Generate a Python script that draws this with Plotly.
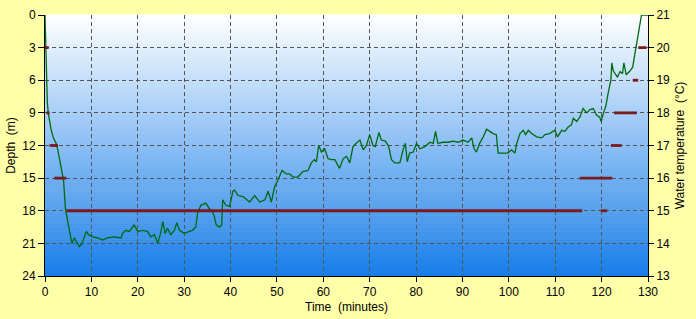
import plotly.graph_objects as go

# ---- Data ----
time_min = [0, 0.1, 0.2, 0.3, 0.5, 0.7, 1.0, 1.3, 1.8, 2.4, 2.8, 3.3, 3.7, 4.0, 4.2, 4.4, 4.9, 5.4, 5.8,
            6.3, 7.0, 7.4, 8.0, 8.5, 8.9, 9.4, 10.3, 11.3, 12.4, 13.5, 14.9, 16.4, 16.7, 17.4, 18.2, 19.2,
            20.0, 21.0, 22.1, 22.8, 23.6, 24.3, 24.9, 25.4, 25.9, 26.4, 27.1, 27.9, 28.4, 29.0, 30.0, 31.1,
            31.8, 32.5, 32.9, 33.6, 34.7, 35.4, 36.1, 36.5, 36.9, 37.6, 38.1, 38.3, 39.0, 39.8, 40.5, 40.9,
            41.6, 42.7, 44.1, 45.2, 46.3, 47.4, 48.1, 48.8, 49.5, 50.2, 51.1, 52.0, 52.7, 53.5, 54.5, 55.6,
            56.7, 57.4, 58.1, 58.5, 59.0, 59.6, 60.3, 61.0, 61.7, 62.5, 63.5, 64.3, 65.0, 65.7, 66.4, 67.1,
            67.9, 68.6, 69.3, 70.0, 70.7, 71.2, 72.0, 72.5, 73.4, 74.1, 74.7, 75.4, 76.5, 77.2, 77.7, 78.1,
            78.6, 79.4, 80.1, 80.8, 81.9, 83.0, 83.7, 84.2, 84.7, 85.8, 86.9, 88.0, 89.1, 90.1, 91.2, 92.0,
            92.5, 93.0, 93.7, 94.5, 95.2, 95.9, 96.6, 97.3, 97.7, 98.8, 99.8, 100.6, 101.3, 101.7, 102.4,
            103.1, 103.6, 104.2, 104.9, 106.0, 107.1, 107.8, 108.8, 109.9, 110.5, 111.4, 112.1, 112.8,
            113.5, 113.9, 114.6, 115.3, 116.0, 116.8, 117.5, 118.2, 118.9, 119.6, 119.9, 120.4, 120.9,
            121.4, 122.0, 122.2, 122.5, 122.9, 123.4, 124.0, 124.5, 124.8, 125.3, 126.0, 126.7, 127.2,
            127.6, 127.9, 128.3, 128.6, 129.3, 130.0]
depth_m = [0, 1.5, 4.0, 6.0, 8.0, 9.0, 9.8, 10.5, 11.3, 11.8, 12.5, 13.6, 14.4, 15.2, 16.5, 17.8, 19.0, 20.3, 21.0,
           20.5, 21.0, 21.3, 21.0, 20.4, 19.9, 20.2, 20.4, 20.5, 20.7, 20.5, 20.4, 20.5, 20.1, 19.8, 19.9, 19.3,
           19.9, 19.8, 19.9, 20.4, 20.2, 21.0, 20.1, 19.0, 20.1, 19.6, 20.2, 19.8, 19.1, 19.8, 20.1, 19.9,
           19.8, 19.5, 18.2, 17.5, 17.3, 17.8, 18.1, 18.5, 19.3, 19.5, 19.3, 17.0, 17.5, 17.6, 16.2, 16.1,
           16.6, 16.7, 17.2, 16.6, 17.2, 17.0, 16.2, 17.2, 15.8, 15.2, 14.3, 14.6, 14.6, 14.9, 14.9, 14.4,
           14.3, 13.6, 13.3, 13.5, 12.0, 12.6, 12.3, 13.2, 13.3, 13.3, 14.1, 13.2, 13.0, 13.6, 12.1, 11.8,
           11.5, 12.4, 12.0, 11.0, 12.0, 12.1, 10.8, 11.5, 11.6, 12.1, 13.3, 13.6, 13.6, 12.4, 11.8, 13.5,
           12.7, 12.6, 11.8, 12.3, 12.1, 11.7, 11.8, 10.7, 11.8, 11.7, 11.7, 11.6, 11.7, 11.5, 11.7, 11.3,
           12.3, 12.6, 11.8, 11.2, 10.5, 10.7, 10.9, 11.0, 12.7, 12.7, 12.7, 12.4, 12.7, 11.8, 10.9,
           10.6, 11.0, 10.6, 10.9, 11.2, 11.3, 11.0, 10.9, 10.6, 11.2, 10.6, 10.7, 10.3,
           10.1, 9.5, 9.8, 9.4, 8.6, 9.0, 8.7, 8.6, 9.2, 9.4, 9.8, 9.0, 8.4,
           7.2, 6.0, 4.4, 5.1, 5.4, 5.7, 5.2, 5.4, 4.4, 5.5, 5.2, 4.8, 3.5,
           2.5, 1.5, 0.8, 0.0, 0.0, 0.0]

temp_start = [0.0, 0.3, 1.0, 2.0, 4.6, 115.3, 119.8, 122.0, 122.7, 126.7, 127.9]
temp_end = [0.8, 1.0, 2.8, 4.6, 115.8, 122.3, 121.2, 124.3, 127.6, 127.9, 129.7]
temp_value = [20, 18, 17, 16, 15, 16, 15, 17, 18, 19, 20]

depth_ticks = [0, 3, 6, 9, 12, 15, 18, 21, 24]
temp_ticks = [13, 14, 15, 16, 17, 18, 19, 20, 21]
time_ticks = [0, 10, 20, 30, 40, 50, 60, 70, 80, 90, 100, 110, 120, 130]

# ---- Build temperature segments ----
tx, ty = [], []
for s, e, v in zip(temp_start, temp_end, temp_value):
    tx += [s, e, None]
    ty += [v, v, None]

fig = go.Figure()
fig.add_trace(go.Scatter(x=tx, y=ty, mode="lines", yaxis="y2",
                         line=dict(color="#7a1a1a", width=2.8), hoverinfo="skip",
                         showlegend=False))
fig.add_trace(go.Scatter(x=time_min, y=depth_m, mode="lines",
                         line=dict(color="#006a10", width=1.3), showlegend=False))

# gradient background as thin bands
shapes = []
n = 130
top = (255, 255, 255)
bot = (24, 126, 234)
for i in range(n):
    f = (i + 0.5) / n
    c = tuple(round(top[k] + (bot[k] - top[k]) * f) for k in range(3))
    shapes.append(dict(type="rect", xref="paper", yref="paper",
                       x0=0, x1=1, y0=1 - (i + 1) / n, y1=1 - i / n + 0.002,
                       fillcolor="rgb(%d,%d,%d)" % c, line=dict(width=0), layer="below"))

font = dict(family="Arial, Liberation Sans, sans-serif", size=12, color="#000")
grid = dict(showgrid=True, gridcolor="#555555", griddash="4px,3px", gridwidth=1)

fig.update_layout(
    width=696, height=319,
    margin=dict(l=45, r=48, t=15, b=43),
    paper_bgcolor="#ffffaa",
    plot_bgcolor="rgba(0,0,0,0)",
    font=font,
    shapes=shapes,
    xaxis=dict(range=[0, 130], tickvals=time_ticks, ticks="outside", ticklen=5,
               tickcolor="#000", showline=True, linecolor="#000", linewidth=1,
               zeroline=False, automargin=False,
               title=dict(text="Time\u00a0\u00a0(minutes)", standoff=4,
                          font=dict(size=12)), **grid),
    yaxis=dict(range=[24, 0], tickvals=depth_ticks, ticks="outside", ticklen=6,
               tickcolor="#000", showline=True, linecolor="#000", linewidth=1,
               zeroline=False, automargin=False,
               title=dict(text="Depth\u00a0\u00a0(m)", standoff=4,
                          font=dict(size=12)), **grid),
    yaxis2=dict(range=[13, 21], tickvals=temp_ticks, overlaying="y", side="right",
                ticks="outside", ticklen=5, tickcolor="#000", showline=True,
                linecolor="#000", linewidth=1, showgrid=False, zeroline=False,
                automargin=False,
                title=dict(text="Water temperature\u00a0\u00a0(\u00b0C)", standoff=6,
                           font=dict(size=12))),
)

fig.write_html("out.html")
